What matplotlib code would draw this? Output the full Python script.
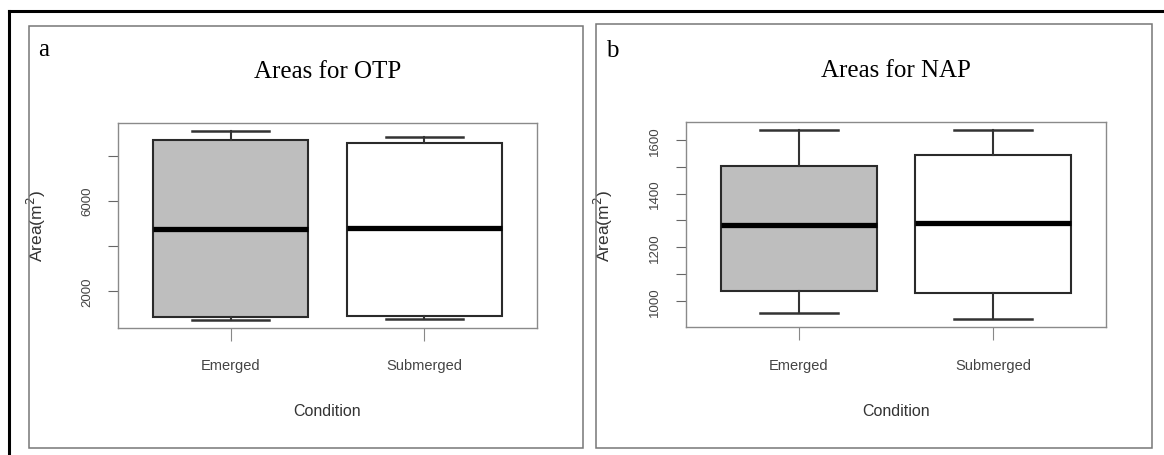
import matplotlib
matplotlib.use("Agg")
import matplotlib.pyplot as plt
from matplotlib.patches import Rectangle
from matplotlib.lines import Line2D

# values
conditions = ["Emerged", "Submerged"]
fills = ["#bebebe", "white"]

otp_whislo = [711, 756]
otp_q1 = [850, 880]
otp_med = [4760, 4775]
otp_q3 = [8711, 8577]
otp_whishi = [9111, 8844]
otp_ticks = [2000, 4000, 6000, 8000]
otp_ticklabels = ["2000", "", "6000", ""]

nap_whislo = [954, 932]
nap_q1 = [1036, 1031]
nap_med = [1284, 1290]
nap_q3 = [1503, 1545]
nap_whishi = [1638, 1637]
nap_ticks = [1000, 1100, 1200, 1300, 1400, 1500, 1600]
nap_ticklabels = ["1000", "", "1200", "", "1400", "", "1600"]

W, H = 1164, 456
sans = "Liberation Sans"
serif = "Liberation Serif"


def draw_box(ax, whislo, q1, med, q3, whishi, ticks, ticklabels, title):
    stats = []
    for i in range(len(conditions)):
        stats.append(dict(label=conditions[i], whislo=whislo[i], q1=q1[i],
                          med=med[i], q3=q3[i], whishi=whishi[i], fliers=[]))
    bp = ax.bxp(stats, positions=[1, 2], widths=0.8, patch_artist=True,
                showfliers=False,
                boxprops=dict(edgecolor="#2a2a2a", linewidth=1.5),
                medianprops=dict(color="black", linewidth=3.8, solid_capstyle="butt"),
                whiskerprops=dict(color="#333333", linewidth=1.5),
                capprops=dict(color="#333333", linewidth=1.8))
    for patch, c in zip(bp["boxes"], fills):
        patch.set_facecolor(c)

    lo, hi = min(whislo), max(whishi)
    pad = 0.04 * (hi - lo)
    ax.set_ylim(lo - pad, hi + pad)
    ax.set_xlim(0.42, 2.58)

    ax.set_yticks(ticks)
    ax.set_yticklabels(ticklabels, rotation=90, va="center",
                       fontsize=9.5, color="#444444", family=sans)
    ax.set_xticks([1, 2])
    ax.set_xticklabels(conditions, fontsize=10.5, color="#444444", family=sans)
    ax.tick_params(axis="y", length=7, width=0.8, color="#666666", pad=11)
    ax.tick_params(axis="x", length=9, width=0.8, color="#888888", pad=13)
    for s in ax.spines.values():
        s.set_color("#8a8a8a")
        s.set_linewidth(1.0)

    ax.set_xlabel("Condition", fontsize=11.5, color="#333333", family=sans)
    ax.xaxis.set_label_coords(0.5, -0.37)
    ax.set_ylabel("Area(m$^2$)", fontsize=12.5, color="#333333", family=sans)
    ax.yaxis.set_label_coords(-0.168, 0.5)
    ax.set_title(title, fontsize=18, family=serif, pad=33)


fig = plt.figure(figsize=(W / 100, H / 100), dpi=100)


def fx(px):
    return px / W


def fy(py):
    return 1 - py / H


# outer black frame (top and left visible)
fig.add_artist(Line2D([fx(9), fx(W + 5)], [fy(12), fy(12)], color="black", lw=2.2))
fig.add_artist(Line2D([fx(9), fx(9)], [fy(12), fy(H + 5)], color="black", lw=2.2))

# panel frames
fig.add_artist(Rectangle((fx(29), fy(449)), fx(583 - 29), (449 - 27) / H,
                         fill=False, edgecolor="#777777", lw=1.1))
fig.add_artist(Rectangle((fx(596), fy(449)), fx(1152 - 596), (449 - 25) / H,
                         fill=False, edgecolor="#777777", lw=1.1))

ax1 = fig.add_axes([fx(118), fy(328.5), fx(537 - 118), (328.5 - 124) / H])
draw_box(ax1, otp_whislo, otp_q1, otp_med, otp_q3, otp_whishi,
         otp_ticks, otp_ticklabels, "Areas for OTP")

ax2 = fig.add_axes([fx(686), fy(328), fx(1106 - 686), (328 - 123) / H])
draw_box(ax2, nap_whislo, nap_q1, nap_med, nap_q3, nap_whishi,
         nap_ticks, nap_ticklabels, "Areas for NAP")

fig.text(fx(38), fy(56), "a", fontsize=18, family=serif, va="baseline")
fig.text(fx(606), fy(57), "b", fontsize=18, family=serif, va="baseline")

fig.savefig("out.png", dpi=100)
